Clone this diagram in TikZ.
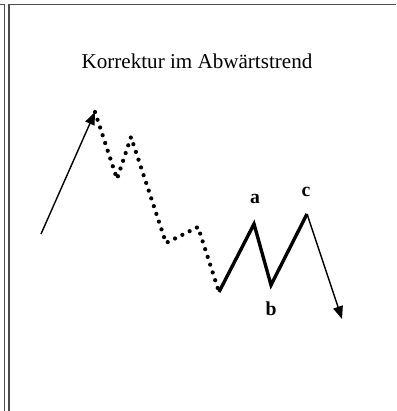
\documentclass[tikz,border=0pt]{standalone}
\usepackage{fontspec}
\setmainfont{Liberation Serif}
\usetikzlibrary{arrows.meta}

\tikzset{
    punkte/.style={line width=3pt, line cap=round, dash pattern=on 0pt off 5.8pt},
    welle/.style={line width=2.4pt, line join=miter},
    pfeil/.style={line width=1pt, -{Triangle[length=9pt,width=7pt]}},
    marke/.style={font=\bfseries\fontsize{14}{14}\selectfont, inner sep=0pt},
    rahmen/.style={line width=1.2pt, black!70}
}

\begin{document}
\begin{tikzpicture}[x=0.025cm, y=-0.025cm]
    \useasboundingbox (0,0) rectangle (396,411);
    % Rahmen
    \draw[rahmen] (0,4.5) -- (4.5,4.5) -- (4.5,411);
    \draw[rahmen] (9,411) -- (9,4.5) -- (396,4.5);
    \node[font=\fontsize{15}{15}\selectfont] (titel) at (197,61) {Korrektur im Abwärtstrend};
    \path coordinate (S) at (41,234)
        coordinate (P0) at (95,112)
        coordinate (P1) at (117,179)
        coordinate (P2) at (131,137)
        coordinate (P3) at (166,243)
        coordinate (P4) at (198,227)
        coordinate (W0) at (219,292)
        coordinate (A) at (254,224)
        coordinate (B) at (271,285)
        coordinate (C) at (307,214)
        coordinate (E) at (342,319);
    \path node[marke] (la) at (255,199) {a}
        node[marke] (lb) at (271,309) {b}
        node[marke] (lc) at (306,192) {c};
    \draw[pfeil] (S) -- (P0);
    \draw[punkte] (P0) -- (P1) -- (P2) -- (P3) -- (P4) -- (W0);
    \draw[welle] (W0) -- (A) -- (B) -- (C);
    \draw[pfeil] (C) -- (E);
\end{tikzpicture}
\end{document}
